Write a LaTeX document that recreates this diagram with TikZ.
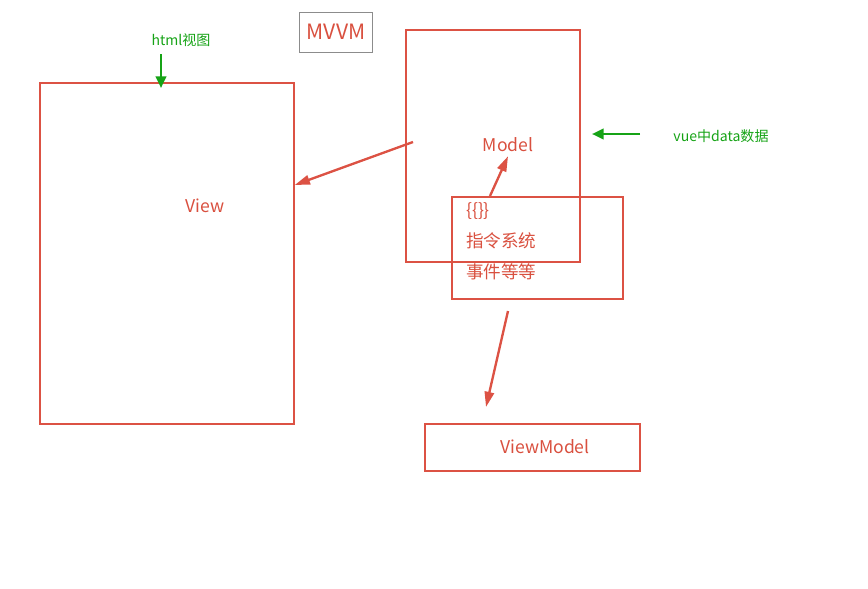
\documentclass[tikz,border=0pt]{standalone}
\usepackage{fontspec}
\setmainfont{Noto Sans CJK SC}
\usepackage{xcolor}
\usetikzlibrary{arrows.meta,positioning}
\definecolor{boxred}{HTML}{DC5244}
\definecolor{textred}{HTML}{D9503F}
\definecolor{notegreen}{HTML}{16A316}
\definecolor{selgray}{HTML}{8C8C8C}
\tikzset{
  redbox/.style={
    draw=boxred, line width=1.2pt, inner sep=0pt,
  },
  redtxt/.style={font=\fontsize{15}{18}\selectfont, text=textred},
  notetxt/.style={font=\fontsize{12}{14}\selectfont, text=notegreen},
  redarrow/.style={-{Triangle[length=13pt,width=8pt]}, line width=2pt, color=boxred},
  greenarrow/.style={-{Triangle[length=10pt,width=9pt]}, line width=2.2pt, color=notegreen},
}

\begin{document}
\begin{tikzpicture}[x=0.03cm,y=-0.03cm]

  \useasboundingbox (0,0) rectangle (868,589);

  % boxes
  \node[redbox, minimum width=7.62cm, minimum height=10.23cm] (view) at (167,253.5) {};
  \node[redbox, minimum width=5.22cm, minimum height=6.96cm] (model) at (493,146) {};
  \node[redbox, minimum width=5.13cm, minimum height=3.06cm] (directive) at (537.5,248) {};
  \node[redbox, minimum width=6.45cm, minimum height=1.41cm] (vm) at (532.5,447.5) {};

  % labels
  \node[redtxt] (viewlbl) at (205,206) {View};
  \node[redtxt] (modellbl) at (508,145) {Model};
  \node[redtxt, align=left, anchor=north west, font=\fontsize{15}{26.5}\selectfont] (dirlbl)
    at (462,198) {\{\{\}\}\\指令系统\\事件等等};
  \node[redtxt] (vmlbl) at (545,447) {ViewModel};

  % title with selection frame
  \node[draw=selgray, line width=0.6pt, minimum width=2.2cm, minimum height=1.2cm,
        text=textred, font=\fontsize{18}{20}\selectfont] (title) at (336,32) {MVVM};

  % green notes
  \node[notetxt] (htmlnote) at (181,40) {html视图};
  \node[notetxt] (vuenote) at (721,136) {vue中data数据};
  \coordinate (htmltop) at (161,54);
  \coordinate (vuetail) at (640,134);

  \draw[greenarrow] (htmltop) -- (161,88);
  \draw[greenarrow] (vuetail) -- (592,134);

  % red arrows
  \coordinate (mstart) at (413,142);
  \coordinate (dstart) at (490,196);
  \coordinate (vmstart) at (508,311);
  \coordinate (vmend) at (486,407);
  \draw[redarrow] (mstart) -- (view.east |- 0,185);
  \draw[redarrow] (dstart) -- (modellbl.south);
  \draw[redarrow] (vmstart) -- (vmend);

\end{tikzpicture}
\end{document}
